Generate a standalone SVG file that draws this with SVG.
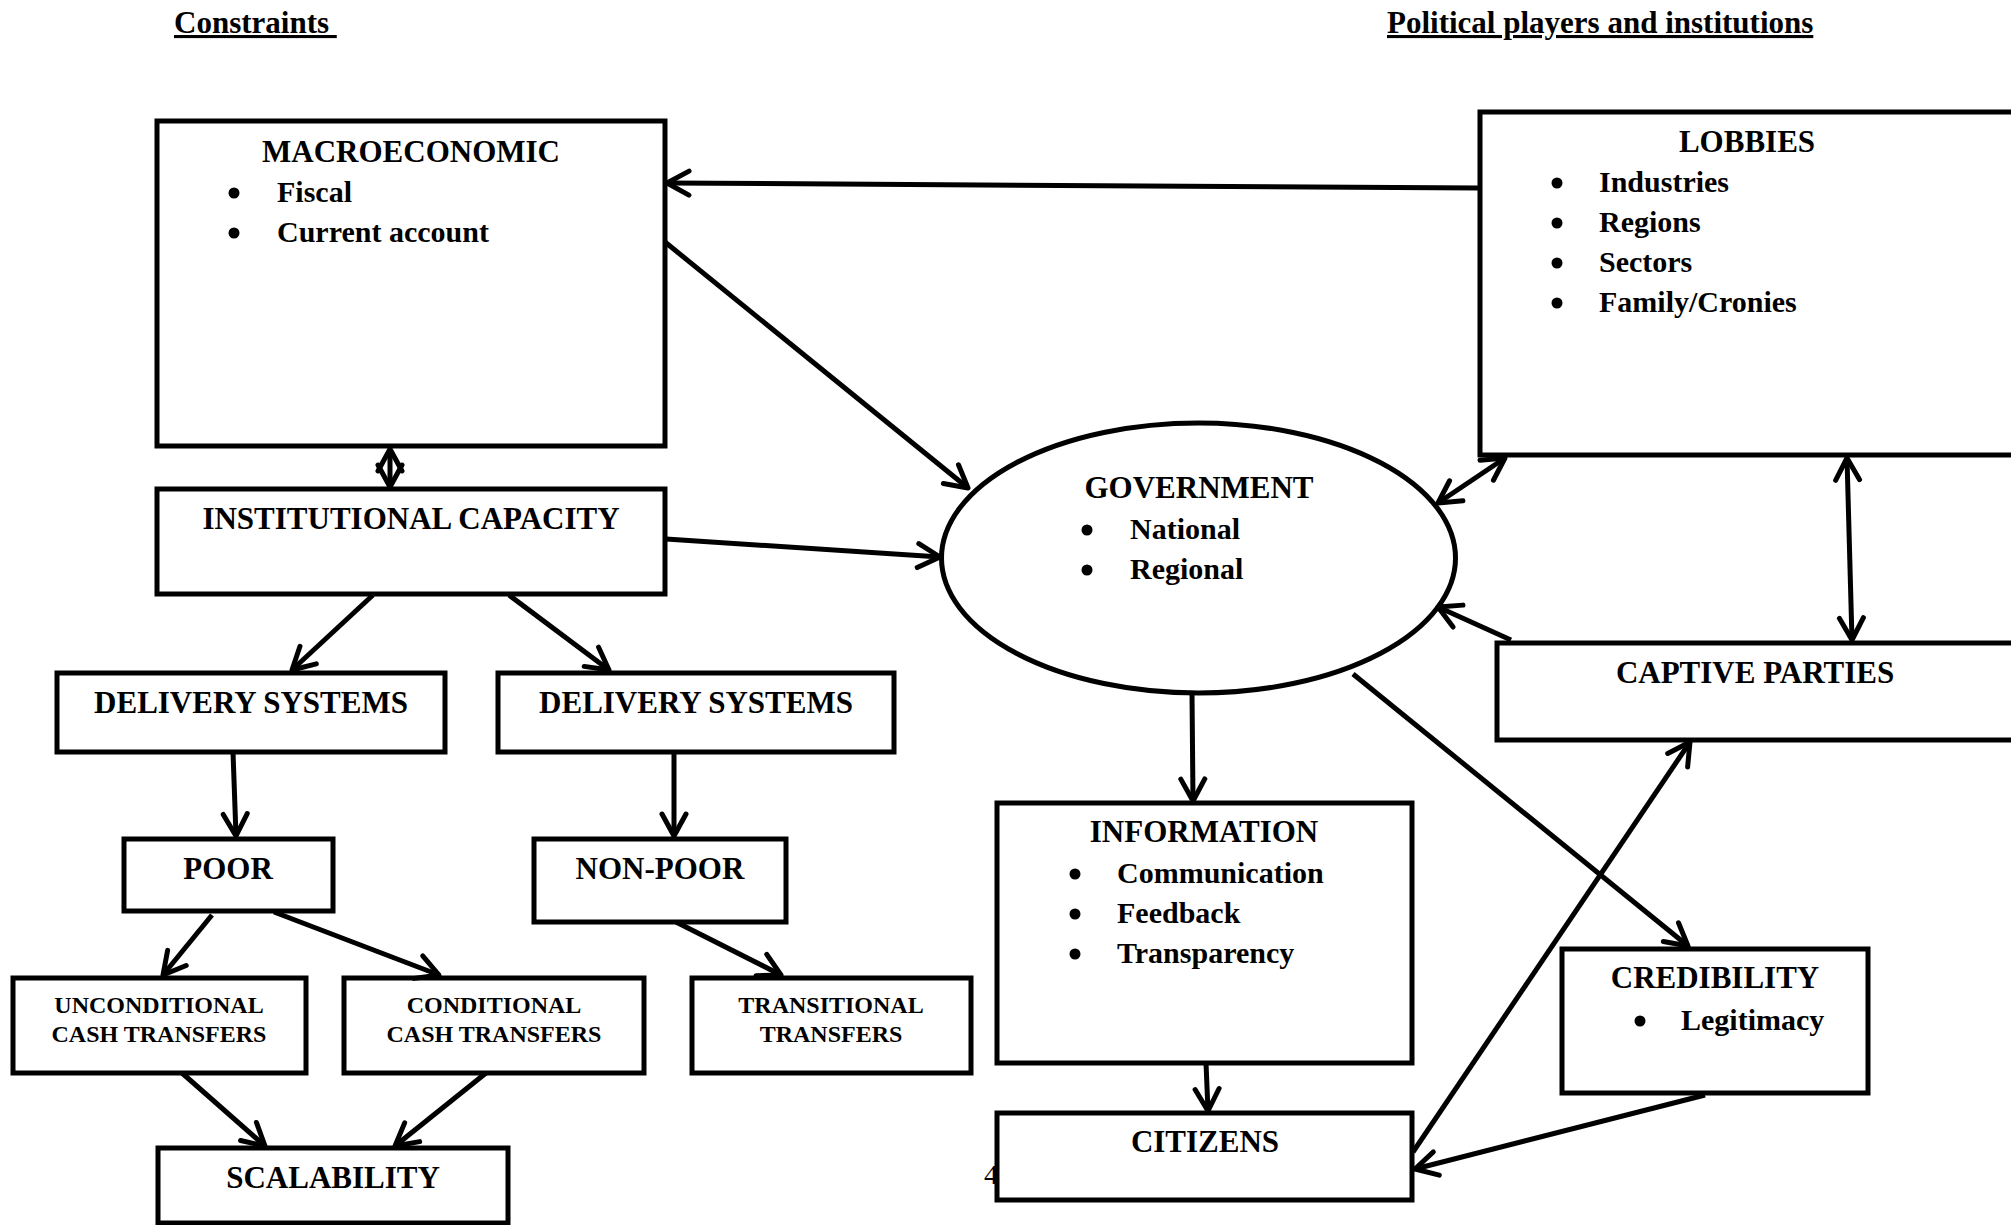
<svg xmlns="http://www.w3.org/2000/svg" width="2011" height="1225" viewBox="0 0 2011 1225">
<style>
.box{fill:#fff;stroke:#000;stroke-width:5}
.t{font-family:"Liberation Serif","Times New Roman",serif;font-weight:bold;font-size:31px;fill:#000;text-anchor:middle}
.b{font-family:"Liberation Serif","Times New Roman",serif;font-weight:bold;font-size:30px;fill:#000}
.dot{fill:#000}
.s{font-family:"Liberation Serif","Times New Roman",serif;font-weight:bold;font-size:24px;fill:#000;text-anchor:middle}
.h{font-family:"Liberation Serif","Times New Roman",serif;font-weight:bold;font-size:31px;fill:#000;text-decoration:underline;white-space:pre}
.c{fill:none;stroke:#000;stroke-width:5;marker-end:url(#ah)}
.c2{fill:none;stroke:#000;stroke-width:5;marker-end:url(#ah);marker-start:url(#ah)}
</style>
<defs>
<marker id="ah" markerUnits="userSpaceOnUse" viewBox="0 0 30 30" markerWidth="30" markerHeight="30" refX="26" refY="15" orient="auto-start-reverse">
<path d="M4,3 L26,15 L4,27" fill="none" stroke="#000" stroke-width="5" stroke-linecap="round" stroke-linejoin="round"/>
</marker>
</defs>
<rect width="2011" height="1225" fill="#fff"/>
<text class="h" x="174" y="33" xml:space="preserve">Constraints </text>
<text class="h" x="1387" y="33">Political players and institutions</text>

<g id="macroeconomic">
<rect class="box" x="157" y="121" width="508" height="325"/>
<text class="t" x="411" y="162">MACROECONOMIC</text>
<circle class="dot" cx="234" cy="193" r="5.5"/><text class="b" x="277" y="202">Fiscal</text>
<circle class="dot" cx="234" cy="233" r="5.5"/><text class="b" x="277" y="242">Current account</text>
</g>
<g id="institutional">
<rect class="box" x="157" y="489" width="508" height="105"/>
<text class="t" x="411" y="529">INSTITUTIONAL CAPACITY</text>
</g>
<g id="delivery-left">
<rect class="box" x="57" y="673" width="388" height="79"/>
<text class="t" x="251" y="713">DELIVERY SYSTEMS</text>
</g>
<g id="delivery-right">
<rect class="box" x="498" y="673" width="396" height="79"/>
<text class="t" x="696" y="713">DELIVERY SYSTEMS</text>
</g>
<g id="poor">
<rect class="box" x="124" y="839" width="209" height="72"/>
<text class="t" x="228" y="879">POOR</text>
</g>
<g id="non-poor">
<rect class="box" x="534" y="839" width="252" height="83"/>
<text class="t" x="660" y="879">NON-POOR</text>
</g>
<g id="unconditional">
<rect class="box" x="13" y="978" width="293" height="95"/>
<text class="s" x="159" y="1013">UNCONDITIONAL</text>
<text class="s" x="159" y="1042">CASH TRANSFERS</text>
</g>
<g id="conditional">
<rect class="box" x="344" y="978" width="300" height="95"/>
<text class="s" x="494" y="1013">CONDITIONAL</text>
<text class="s" x="494" y="1042">CASH TRANSFERS</text>
</g>
<g id="transitional">
<rect class="box" x="692" y="978" width="279" height="95"/>
<text class="s" x="831" y="1013">TRANSITIONAL</text>
<text class="s" x="831" y="1042">TRANSFERS</text>
</g>
<g id="scalability">
<rect class="box" x="158" y="1148" width="350" height="75"/>
<text class="t" x="333" y="1188">SCALABILITY</text>
</g>
<g id="government">
<ellipse cx="1198.5" cy="558" rx="257" ry="135" fill="#fff" stroke="#000" stroke-width="5"/>
<text class="t" x="1199" y="498">GOVERNMENT</text>
<circle class="dot" cx="1087" cy="530" r="5.5"/><text class="b" x="1130" y="539">National</text>
<circle class="dot" cx="1087" cy="570" r="5.5"/><text class="b" x="1130" y="579">Regional</text>
</g>
<g id="lobbies">
<rect class="box" x="1480" y="112" width="560" height="343"/>
<text class="t" x="1747" y="152">LOBBIES</text>
<circle class="dot" cx="1557" cy="183" r="5.5"/><text class="b" x="1599" y="192">Industries</text>
<circle class="dot" cx="1557" cy="223" r="5.5"/><text class="b" x="1599" y="232">Regions</text>
<circle class="dot" cx="1557" cy="263" r="5.5"/><text class="b" x="1599" y="272">Sectors</text>
<circle class="dot" cx="1557" cy="303" r="5.5"/><text class="b" x="1599" y="312">Family/Cronies</text>
</g>
<g id="captive-parties">
<rect class="box" x="1497" y="643" width="540" height="97"/>
<text class="t" x="1755" y="683">CAPTIVE PARTIES</text>
</g>
<g id="information">
<rect class="box" x="997" y="803" width="415" height="260"/>
<text class="t" x="1204" y="842">INFORMATION</text>
<circle class="dot" cx="1075" cy="874" r="5.5"/><text class="b" x="1117" y="883">Communication</text>
<circle class="dot" cx="1075" cy="914" r="5.5"/><text class="b" x="1117" y="923">Feedback</text>
<circle class="dot" cx="1075" cy="954" r="5.5"/><text class="b" x="1117" y="963">Transparency</text>
</g>
<text x="984" y="1184" font-family="Liberation Serif, serif" font-size="28" fill="#000">4</text>
<g id="citizens">
<rect class="box" x="997" y="1113" width="415" height="87"/>
<text class="t" x="1205" y="1152">CITIZENS</text>
</g>
<g id="credibility">
<rect class="box" x="1562" y="949" width="306" height="144"/>
<text class="t" x="1715" y="988">CREDIBILITY</text>
<circle class="dot" cx="1640" cy="1021" r="5.5"/><text class="b" x="1681" y="1030">Legitimacy</text>
</g>

<g id="connectors">
<path class="c" d="M1479,188 L667,183"/>
<path class="c" d="M665,242 L968,488"/>
<path class="c2" d="M390,449 L390,487"/>
<path class="c" d="M666,539 L940,557"/>
<path class="c" d="M373,595 L292,670"/>
<path class="c" d="M509,595 L609,670"/>
<path class="c" d="M233,752 L236,836"/>
<path class="c" d="M674,752 L674,836"/>
<path class="c" d="M212,915 L163,975"/>
<path class="c" d="M274,912 L439,975"/>
<path class="c" d="M676,922 L781,975"/>
<path class="c" d="M182,1073 L265,1146"/>
<path class="c" d="M486,1073 L395,1146"/>
<path class="c2" d="M1505,458 L1438,503"/>
<path class="c2" d="M1847,458 L1852,640"/>
<path class="c" d="M1511,640 L1438,607"/>
<path class="c" d="M1192,693 L1193,801"/>
<path class="c" d="M1206,1063 L1208,1111"/>
<path class="c" d="M1353,674 L1688,946"/>
<path class="c" d="M1413,1152 L1690,742"/>
<path class="c" d="M1705,1095 L1415,1169"/>
</g>
</svg>
